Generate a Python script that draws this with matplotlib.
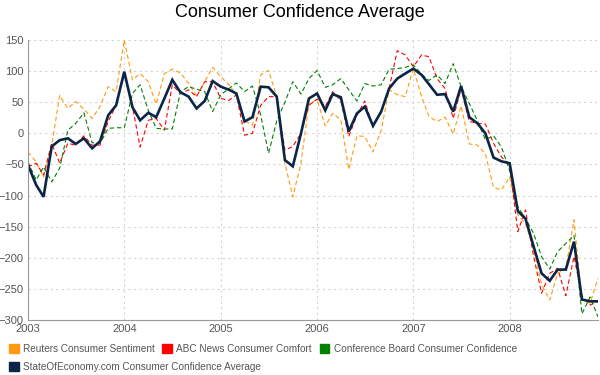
import numpy as np
import pandas as pd
import matplotlib
matplotlib.use("Agg")
import matplotlib.pyplot as plt
import matplotlib.dates as mdates
from matplotlib.patches import Patch

plt.rcParams['font.family'] = ['Liberation Sans', 'DejaVu Sans']

# monthly readings, Jan 2003 .. Dec 2008
months = pd.date_range("2003-01-01", periods=72, freq="MS")

reuters = [-30, -46, -70, -20, 61, 40, 51, 39, 24, 43, 75, 67,
           150, 86, 96, 83, 47, 96, 103, 97, 80, 60, 83, 106,
           91, 78, 62, 21, 13, 94, 101, 59, -48, -102, -48, 48,
           54, 12, 32, 22, -58, -4, -5, -30, 5, 70, 62, 59,
           104, 59, 27, 19, 26, -1, 44, -17, -19, -33, -87, -91,
           -70, -131, -145, -187, -243, -268, -225, -217, -139, -268, -273, -233]

abc = [-54, -48, -67, -16, -48, -16, -19, -4, -19, -19, 19, 45,
       96, 43, -22, 21, 24, 5, 78, 64, 70, 59, 83, 83,
       56, 53, 62, -3, 0, 45, 59, 59, -27, -21, 0, 45,
       55, 43, 67, 53, -5, 29, 52, 10, 35, 72, 133, 126,
       107, 126, 123, 88, 72, 24, 72, 19, 16, 15, -16, -38,
       -51, -158, -123, -198, -257, -225, -217, -261, -198, -261, -276, -270]

conference = [-46, -75, -54, -78, -56, 5, 16, 33, -15, -16, 8, 9,
              9, 64, 78, 37, 8, 7, 7, 67, 75, 71, 67, 35,
              62, 72, 81, 67, 76, 30, -32, 20, 50, 83, 63, 88,
              101, 74, 78, 88, 70, 52, 80, 76, 78, 103, 104, 106,
              110, 95, 85, 94, 80, 112, 75, 48, 20, -10, -4, -22,
              -60, -118, -137, -161, -198, -218, -190, -177, -164, -290, -263, -295]

average = [-51, -83, -102, -21, -11, -8, -17, -8, -24, -13, 29, 45,
           99, 42, 21, 33, 26, 56, 86, 66, 59, 40, 52, 84,
           75, 70, 64, 19, 26, 75, 74, 59, -43, -53, 0, 56,
           64, 37, 63, 58, 3, 32, 43, 12, 35, 72, 88, 96,
           104, 94, 79, 62, 63, 35, 76, 26, 16, 0, -39, -45,
           -48, -125, -137, -182, -225, -237, -219, -219, -174, -267, -270, -270]

labels = ["Reuters Consumer Sentiment", "ABC News Consumer Comfort",
          "Conference Board Consumer Confidence",
          "StateOfEconomy.com Consumer Confidence Average"]
colors = ["#ff9a10", "#ff0000", "#008000", "#0b2548"]

fig = plt.figure(figsize=(6, 3.75), dpi=100)
ax = fig.add_axes([28 / 600, 1 - 320 / 375, 570 / 600, 280 / 375])

for vals, c in zip([reuters, abc, conference], colors[:3]):
    ax.plot(months, vals, color=c, lw=0.8, dashes=(4, 2.5))
ax.plot(months, average, color=colors[3], lw=1.9, solid_joinstyle="miter")

ax.set_ylim(-300, 150)
ax.set_yticks(range(-300, 151, 50))
ax.set_xlim(months[0], months[-1])
ax.xaxis.set_major_locator(mdates.YearLocator())
ax.xaxis.set_major_formatter(mdates.DateFormatter("%Y"))

ax.grid(True, color="#d4d4d4", lw=0.8, dashes=(2, 3))
ax.set_axisbelow(True)
for s in ("top", "right"):
    ax.spines[s].set_visible(False)
for s in ("left", "bottom"):
    ax.spines[s].set_color("#999999")
    ax.spines[s].set_linewidth(0.8)
ax.tick_params(length=0, labelsize=8, labelcolor="#555555", pad=3)

fig.suptitle("Consumer Confidence Average", fontsize=13, y=0.99, va="top")

h = [Patch(color=c) for c in colors]
kw = dict(frameon=False, fontsize=7.2, handlelength=0.95, handleheight=0.95,
          handletextpad=0.45, columnspacing=0.75, labelcolor="#555555",
          borderaxespad=0, borderpad=0)
fig.legend(h[:3], labels[:3], ncol=3, loc="upper left",
           bbox_to_anchor=(9 / 600, 1 - 344 / 375), **kw)
fig.legend(h[3:], labels[3:], loc="upper left",
           bbox_to_anchor=(9 / 600, 1 - 362 / 375), **kw)

fig.savefig("out.png", dpi=100)
